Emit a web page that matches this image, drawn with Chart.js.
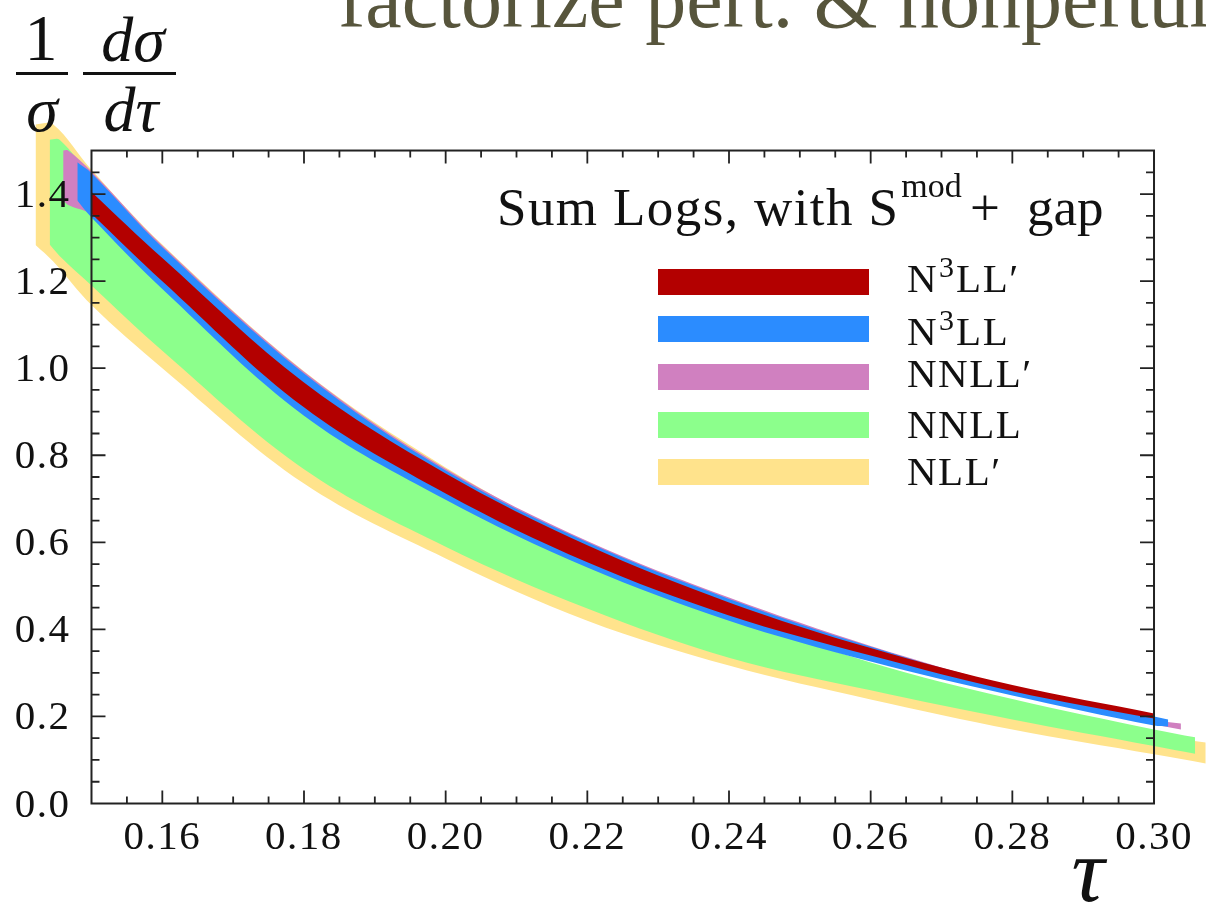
<!DOCTYPE html>
<html>
<head>
<meta charset="utf-8">
<script src="https://cdn.jsdelivr.net/npm/chart.js@4.4.1/dist/chart.umd.min.js"></script>
<style>
  html, body { margin: 0; padding: 0; background: #fff; }
  canvas { display: block; }
</style>
</head>
<body>
<canvas id="thrust" width="1206" height="905"></canvas>
<script>
// band edges, tau on x, (1/sigma) dsigma/dtau on y
const tauN3LLp = [0.150, 0.160, 0.180, 0.200, 0.220, 0.240, 0.260, 0.280, 0.300];
const hiN3LLp = [1.405, 1.253, 0.967, 0.758, 0.593, 0.462, 0.357, 0.272, 0.207];
const loN3LLp = [1.355, 1.200, 0.910, 0.712, 0.554, 0.432, 0.340, 0.258, 0.195];

const tauN3LL = [0.148, 0.150, 0.160, 0.180, 0.200, 0.220, 0.240, 0.260, 0.280, 0.300, 0.302];
const hiN3LL = [1.473, 1.448, 1.278, 0.988, 0.765, 0.600, 0.470, 0.360, 0.268, 0.200, 0.193];
const loN3LL = [1.385, 1.346, 1.182, 0.891, 0.698, 0.542, 0.420, 0.326, 0.248, 0.179, 0.177];

const tauNNLLp = [0.146, 0.1467, 0.150, 0.160, 0.180, 0.200, 0.220, 0.240, 0.260, 0.280, 0.300, 0.3038];
const hiNNLLp = [1.500, 1.500, 1.452, 1.282, 0.992, 0.769, 0.603, 0.473, 0.362, 0.268, 0.192, 0.184];
const loNNLLp = [1.385, 1.375, 1.352, 1.188, 0.896, 0.703, 0.547, 0.425, 0.330, 0.252, 0.182, 0.170];

const tauNNLL = [0.1441, 0.1455, 0.150, 0.160, 0.180, 0.200, 0.220, 0.240, 0.260, 0.280, 0.300, 0.3058];
const hiNNLL = [1.525, 1.525, 1.440, 1.265, 0.965, 0.742, 0.572, 0.436, 0.324, 0.240, 0.170, 0.152];
const loNNLL = [1.284, 1.258, 1.190, 1.040, 0.768, 0.590, 0.448, 0.335, 0.260, 0.193, 0.132, 0.114];

const tauNLLp = [0.1421, 0.1446, 0.150, 0.160, 0.180, 0.200, 0.220, 0.240, 0.260, 0.280, 0.300, 0.3073];
const hiNLLp = [1.560, 1.560, 1.456, 1.284, 0.993, 0.772, 0.592, 0.436, 0.318, 0.228, 0.158, 0.140];
const loNLLp = [1.283, 1.245, 1.145, 1.000, 0.735, 0.563, 0.420, 0.317, 0.239, 0.170, 0.113, 0.092];

// legend order, top to bottom (also drawing order, first on top)
const bandLabels = ["N^3LL′", "N^3LL", "NNLL′", "NNLL", "NLL′"];
const bandColors = ["#b30000", "#2b8cff", "#d080c0", "#8cff8c", "#ffe38c"];

const xTickValues = [0.16, 0.18, 0.20, 0.22, 0.24, 0.26, 0.28, 0.30];
const xTickLabels = ["0.16", "0.18", "0.20", "0.22", "0.24", "0.26", "0.28", "0.30"];
const yTickValues = [0.0, 0.2, 0.4, 0.6, 0.8, 1.0, 1.2, 1.4];
const yTickLabels = ["0.0", "0.2", "0.4", "0.6", "0.8", "1.0", "1.2", "1.4"];

const SERIF = "'Liberation Serif', 'DejaVu Serif', serif";

function pts(xs, ys) {
  return xs.map((x, i) => ({ x: x, y: ys[i] }));
}

const bands = [
  [tauN3LLp, loN3LLp, hiN3LLp],
  [tauN3LL, loN3LL, hiN3LL],
  [tauNNLLp, loNNLLp, hiNNLLp],
  [tauNNLL, loNNLL, hiNNLL],
  [tauNLLp, loNLLp, hiNLLp],
];

const datasets = [];
bands.forEach((b, i) => {
  const common = {
    borderWidth: 0,
    borderColor: "transparent",
    pointRadius: 0,
    tension: 0.35,
  };
  datasets.push({ ...common, label: bandLabels[i] + " lo", data: pts(b[0], b[1]), fill: false });
  datasets.push({
    ...common,
    label: bandLabels[i],
    data: pts(b[0], b[2]),
    fill: "-1",
    backgroundColor: bandColors[i],
  });
});

function drawSupText(c, text, x, y, size, supSize, rise) {
  // "^" marks a one-character superscript
  let cx = x;
  for (let i = 0; i < text.length; i++) {
    const ch = text[i];
    if (ch === "^") {
      const s = text[++i];
      c.font = supSize + "px " + SERIF;
      c.fillText(s, cx + 1, y - rise);
      cx += c.measureText(s).width + 3;
    } else {
      c.font = size + "px " + SERIF;
      c.fillText(ch, cx, y);
      cx += c.measureText(ch).width + 1.5;
    }
  }
}

const decor = {
  id: "decor",
  afterDatasetsDraw(chart) {
    const c = chart.ctx;
    const X = (v) => chart.scales.x.getPixelForValue(v);
    const Y = (v) => chart.scales.y.getPixelForValue(v);
    const left = X(0.15), right = X(0.30), top = Y(1.5), bottom = Y(0);

    c.save();
    c.strokeStyle = "#222";
    c.lineWidth = 2;
    c.strokeRect(left, top, right - left, bottom - top);

    c.lineWidth = 1.8;
    c.beginPath();
    for (let i = 1; i < 30; i++) {
      const px = X(0.15 + i * 0.005);
      const len = i % 4 === 2 ? 13 : 7;
      c.moveTo(px, bottom); c.lineTo(px, bottom - len);
      c.moveTo(px, top); c.lineTo(px, top + len);
    }
    for (let j = 1; j < 30; j++) {
      const py = Y(j * 0.05);
      const len = j % 4 === 0 ? 14 : 8;
      c.moveTo(left, py); c.lineTo(left + len, py);
      c.moveTo(right, py); c.lineTo(right - len, py);
    }
    c.stroke();

    c.fillStyle = "#111";
    c.font = "41px " + SERIF;
    c.letterSpacing = "1.5px";
    c.textAlign = "center";
    c.textBaseline = "alphabetic";
    xTickValues.forEach((v, i) => c.fillText(xTickLabels[i], X(v), bottom + 45));
    c.textAlign = "right";
    yTickValues.forEach((v, i) => c.fillText(yTickLabels[i], left - 21, Y(v) + 13));
    c.letterSpacing = "0px";

    // legend
    c.textAlign = "left";
    const rowTop = [269, 316, 364, 412, 459];
    const rowBase = [292, 345, 387, 438, 485];
    bandLabels.forEach((lab, i) => {
      c.fillStyle = bandColors[i];
      c.fillRect(658, rowTop[i], 211, 26);
      c.fillStyle = "#111";
      drawSupText(c, lab, 907, rowBase[i], 41, 30, 15);
    });

    c.font = "53px " + SERIF;
    c.letterSpacing = "1.4px";
    c.fillText("Sum Logs, with S", 497, 225);
    const sEnd = 497 + c.measureText("Sum Logs, with S").width;
    c.letterSpacing = "0px";
    c.font = "34px " + SERIF;
    c.fillText("mod", Math.max(sEnd + 2, 899), 197);
    c.font = "53px " + SERIF;
    c.fillText("+", 970, 225);
    c.fillText("gap", 1027, 225);

    // y axis label: (1/sigma) (d sigma / d tau)
    c.textAlign = "center";
    c.font = "66px " + SERIF;
    c.fillText("1", 41, 60);
    c.font = "italic 64px " + SERIF;
    c.fillText("σ", 42, 131);
    c.fillText("dσ", 133, 61);
    c.fillText("dτ", 131, 131);
    c.fillRect(16, 72, 52, 3);
    c.fillRect(83, 72, 93, 3);

    // x axis label
    c.font = "italic 92px " + SERIF;
    c.fillText("τ", 1088, 901);

    // slide title, cut by the top edge
    c.textAlign = "left";
    c.fillStyle = "#57553c";
    c.font = "82px " + SERIF;
    c.fillText("factorize pert. & nonpertur", 338, 27);
    c.restore();
  },
};

const ctx = document.getElementById("thrust");
const chart = new Chart(ctx, {
  type: "line",
  data: { datasets: datasets },
  options: {
    responsive: false,
    animation: false,
    devicePixelRatio: 1,
    layout: { padding: { left: 35, right: 0, top: 107, bottom: 101.5 } },
    scales: {
      x: { type: "linear", min: 0.142025, max: 0.307339, display: false },
      y: { type: "linear", min: 0, max: 1.6, display: false },
    },
    plugins: {
      legend: { display: false },
      tooltip: { enabled: false },
    },
  },
  plugins: [decor],
});
</script>
</body>
</html>
